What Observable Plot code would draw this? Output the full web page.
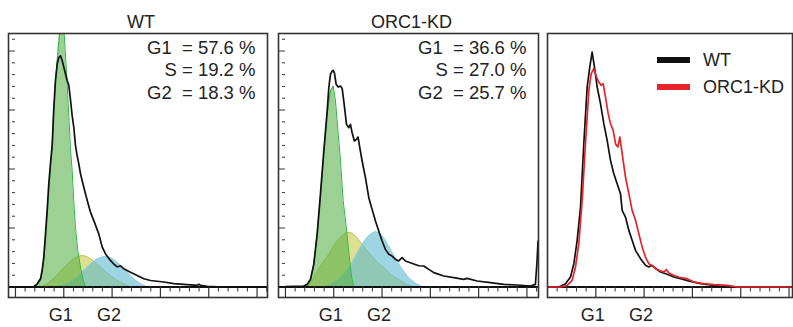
<!DOCTYPE html>
<html>
<head>
<meta charset="utf-8">
<script src="https://cdn.jsdelivr.net/npm/d3@7"></script>
<script src="https://cdn.jsdelivr.net/npm/@observablehq/plot@0.6"></script>
<style>
  body { margin: 0; background: #fff; }
  #chart { position: relative; width: 793px; height: 327px; overflow: hidden;
           font-family: "Liberation Sans", Arial, Helvetica, sans-serif; color: #222; }
  #chart svg { position: absolute; top: 0; overflow: visible; }
  #chart svg text { white-space: pre; }
  .legend-row { position: absolute; left: 657px; height: 20px; display: flex; align-items: center;
                font-size: 18px; color: #222; white-space: nowrap; }
  .legend-row .swatch { width: 33px; height: 6px; margin-right: 13px; }
</style>
</head>
<body>
<div id="chart"></div>
<script>
// ---------- data (x: DNA content channel, G1 = 50, G2 = 100; y: counts) ----------
const wtHistogram = [[0,0],[15,0],[18.9,0.5],[22.5,5.4],[25.9,13.9],[27.6,28],[29.3,50.5],[31.1,90],[32.8,130],[34.5,175],[36.2,209],[38,240],[39.6,300],[41.4,350],[43.2,378],[44.8,389],[46.6,392],[48.3,384],[50,373],[53.5,350],[55.2,342],[56.9,318],[58.7,290],[60.4,270],[62.1,240],[63.9,222],[65.5,209],[67.3,192],[70.7,169],[74.2,147],[77.6,127],[81,113],[86.2,90],[89.7,68],[93.2,56],[98.3,45],[101.7,39],[105.3,34],[108.7,36],[112.1,31],[119,25],[126,19.5],[132.8,14],[139.7,11],[153.5,8.5],[163.9,5.6],[177.7,4],[188,2.8],[189.8,4.5],[191.5,2.8],[198.4,1.1],[215,0],[261,0]];
const wtG1Fit = [[20,0],[22.5,3],[25.9,11],[27.6,24],[29.3,45],[31.1,82],[32.8,122],[34.5,165],[36.2,202],[38,236],[39.6,296],[41.4,348],[43.2,384],[45,418],[46.6,452],[48.3,470],[50,440],[51.7,395],[53.5,344],[55.2,290],[56.9,235],[58.7,197],[60.3,147],[62.1,101],[64.5,62],[67.3,34],[70.1,11],[72.5,0]];
const wtSFit = [[25.9,0],[32.8,5],[39.6,14],[46.6,26],[53.5,38],[60.3,48],[65,52],[69,53.4],[73,52],[77.6,48],[82.8,41],[88,33.6],[93.2,26],[98.3,19.5],[103.5,13],[108.7,8],[113.9,4],[119,0]];
const wtG2Fit = [[39.6,0],[48.3,2.5],[56.9,8],[63.9,16],[70.7,28],[77.6,39],[84.5,47.5],[91.4,51.7],[96.6,51],[100.1,48],[104.5,43],[108.7,36.4],[113.9,28],[119,19.5],[124.2,11.5],[129.4,5.4],[136.3,0]];
const wtStats = ["G1  = 57.6 %", "S = 19.2 %", "G2  = 18.3 %"];

const kdHistogram = [[0,0.5],[19,1.7],[22.5,4.5],[25.9,13],[29.3,38.4],[32.8,89.3],[36.2,157],[39.7,230.5],[43.2,298],[44.9,338],[46.6,360.5],[48.3,366],[49.4,367],[50.7,363],[52.5,343.5],[54.5,339],[57,340.7],[58.7,336.7],[60.4,315],[63.2,275.7],[65.6,270],[67.3,275.7],[69,261.6],[71.4,247.5],[73.5,250.3],[75.2,254.2],[77,236],[79.4,213.6],[82.8,185.3],[86.3,151.4],[89.7,131.6],[93.2,112],[96.6,95],[100.1,78],[103.5,63.8],[107,55.4],[110.4,52.5],[113.9,46.9],[117.3,44.1],[120.8,49.7],[124.2,44.1],[129.4,41],[132.9,39],[138,36],[143.2,35.6],[148.4,29.9],[153.6,24.3],[163.9,18.6],[174.3,15.8],[184.6,13],[188.1,14.7],[198.4,10.2],[212.2,7.3],[226,4.5],[239.8,3.4],[253.6,1.7],[258.8,4.5],[260.5,44],[261.5,78]];
const kdG1Fit = [[19,0],[22.5,1.7],[25.9,10.2],[29.3,38.4],[32.8,89.3],[36.2,151.4],[39.7,224.9],[43.2,292.7],[46.6,332.2],[49.4,340.7],[51.8,315.3],[53.5,281.4],[57,213.6],[59.7,147],[61.8,118],[63.8,89],[65.5,60],[67.3,33],[69,12],[70.7,0]];
const kdSFit = [[15.5,0],[22.5,2.5],[27.6,11],[32.8,26],[37.9,39],[43.2,51],[46.6,59],[50,70],[53.5,77],[58.7,86.4],[62,91],[65.5,92.9],[69,91],[73,85],[77.6,76],[81,69],[84.6,62],[89,53],[93,46],[97,39],[101.7,33.6],[106,26],[110,20],[115,15],[119,11],[126,4],[133,0]];
const kdG2Fit = [[39.7,0],[46.6,4],[53.5,10.2],[60.4,22],[67.3,35],[72.5,52],[77.6,66.7],[81,76],[84.5,83.6],[88.7,90],[93.2,94],[97.5,91],[101.8,83.6],[105.3,74],[108.7,63.8],[112,54],[115.6,44.5],[119,35],[122.5,27.1],[126,19],[129.4,13],[131.8,10],[136.3,4.5],[142,0]];
const kdStats = ["G1  = 36.6 %", "S = 27.0 %", "G2  = 25.7 %"];

const overlayWT = [[0,0],[10,0],[13.5,1.1],[18.6,5.6],[23.8,16.9],[27.3,39.5],[30.7,79.1],[34.2,135.6],[37.6,243],[41.05,339],[43.8,373],[46.2,398],[48.6,373],[51.4,339],[54.85,310.7],[58.3,276.8],[61.75,248.6],[65.2,214.7],[68.65,192.1],[72.1,175.1],[75.55,158.2],[77.3,130],[80.7,118.6],[84.2,96],[87.6,79.1],[91.1,62.1],[96.3,48],[101.4,36.7],[104.9,33.9],[108.3,36.7],[111.8,31.1],[117,25.4],[123.9,21.5],[130.75,16.9],[137.65,14.1],[148,9.6],[158.35,5.6],[172.15,2.8],[185.95,1.7],[196.3,0],[254,0]];
const overlayKD = [[0,0],[13.5,0],[20.35,2.8],[25.5,11.3],[29,33.9],[32.4,73.4],[35.9,146.9],[39.3,242.9],[42.8,333.3],[45.2,361.6],[47.95,370.1],[50.7,355.9],[53.1,347.5],[55.5,341.8],[57.6,344.6],[60,322],[62.8,293.8],[65.2,276.8],[68,265.5],[70.4,242.9],[72.8,237.3],[74.9,254.2],[77.3,226],[80.7,186.4],[84.2,158.2],[87.6,129.9],[91.1,113],[94.5,90.4],[98,67.8],[101.4,50.8],[104.9,39.5],[110.05,33.9],[115.2,28.2],[120.4,25.4],[123.2,29.4],[125.6,23.7],[130.75,19.8],[137.65,15.8],[144.55,14.1],[151.45,8.5],[161.8,5.6],[172.15,4],[185.95,2.8],[196.3,0],[254,0]];

const panelTitles = ["WT", "ORC1-KD"];
const phaseLabels = [{label: "G1", x: 50}, {label: "G2", x: 100}];
const legendItems = [{label: "WT", color: "#111111"}, {label: "ORC1-KD", color: "#e8242b"}];

const xMajorTicks = [0, 50, 100, 150, 200, 250];
const xMinorTicks = [10,20,30,40,60,70,80,90,110,120,130,140,160,170,180,190,210,220,230,240,260];
const yMajorTicks = [100, 200, 300, 400];
const yMinorTicks = [20,40,60,80,120,140,160,180,220,240,260,280,320,340,360,380,420];

// ---------- styling ----------
const FRAME = "#333";
const yDomain = [-17.8, 429.7];
const phaseStyle = {
  S:  {fill: "#c6cb44", stroke: "#c3c25a"},
  G2: {fill: "#5cb9cf", stroke: "#8ccfe0"},
  G1: {fill: "#5cb14b", stroke: "#2fb44a"}
};
const X = d => d[0], Y = d => d[1];

function buildPanel(c) {
  const marks = [];
  for (const f of c.fits || []) {
    marks.push(Plot.areaY(f.data, {x: X, y: Y, fill: f.style.fill, fillOpacity: 0.6, clip: true}));
    marks.push(Plot.lineY(f.data, {x: X, y: Y, stroke: f.style.stroke, strokeWidth: 1, clip: true}));
  }
  // baseline and tick strips
  marks.push(Plot.ruleY([0], {stroke: "#111", strokeWidth: 2}));
  marks.push(Plot.ruleX(xMinorTicks.filter(t => t <= c.xDomain[1]), {y1: 0, y2: -8.5, stroke: FRAME, strokeWidth: 1}));
  marks.push(Plot.ruleX(xMajorTicks.filter(t => t > c.xDomain[0] && t <= c.xDomain[1]), {y1: 0, y2: yDomain[0], stroke: FRAME, strokeWidth: 1.2}));
  if (c.yStrip) {
    marks.push(Plot.ruleY(yMinorTicks, {x1: -3.1, x2: 0, stroke: FRAME, strokeWidth: 1}));
    marks.push(Plot.ruleY(yMajorTicks, {x1: c.xDomain[0], x2: 0, stroke: FRAME, strokeWidth: 1}));
  }
  for (const h of c.lines) {
    marks.push(Plot.line(h.data, {x: X, y: Y, stroke: h.stroke, strokeWidth: 1.7, clip: true}));
  }
  marks.push(Plot.frame({stroke: FRAME, strokeWidth: 1.6}));
  if (c.title) {
    marks.push(Plot.text([c.title], {text: d => d, frameAnchor: "top", lineAnchor: "bottom", dy: -6, dx: 3, fontSize: 18, fill: "#222"}));
  }
  if (c.stats) {
    marks.push(Plot.text([c.stats.join("\n")], {text: d => d, frameAnchor: "top-right", textAnchor: "end", lineAnchor: "top", lineHeight: 1.22, dx: -12, dy: 4, fontSize: 18.5, fill: "#222"}));
  }
  marks.push(Plot.text(phaseLabels, {x: "x", text: "label", frameAnchor: "bottom", lineAnchor: "top", dy: 11, dx: -3, fontSize: 18, fill: "#222"}));

  const svg = Plot.plot({
    width: c.width, height: 327,
    marginTop: 33, marginBottom: 30, marginLeft: c.marginLeft, marginRight: c.marginRight,
    x: {domain: c.xDomain, axis: null},
    y: {domain: yDomain, axis: null},
    style: {fontFamily: '"Liberation Sans", Arial, Helvetica, sans-serif', background: "transparent", overflow: "visible"},
    marks
  });
  svg.style.left = c.left + "px";
  return svg;
}

const chart = document.getElementById("chart");
chart.appendChild(buildPanel({
  left: 0, width: 272, marginLeft: 8, marginRight: 5, xDomain: [-7.2, 260.8], yStrip: true,
  title: panelTitles[0], stats: wtStats,
  fits: [{data: wtSFit, style: phaseStyle.S}, {data: wtG2Fit, style: phaseStyle.G2}, {data: wtG1Fit, style: phaseStyle.G1}],
  lines: [{data: wtHistogram, stroke: "#111"}]
}));
chart.appendChild(buildPanel({
  left: 270, width: 272, marginLeft: 8, marginRight: 4, xDomain: [-7.2, 262], yStrip: true,
  title: panelTitles[1], stats: kdStats,
  fits: [{data: kdSFit, style: phaseStyle.S}, {data: kdG2Fit, style: phaseStyle.G2}, {data: kdG1Fit, style: phaseStyle.G1}],
  lines: [{data: kdHistogram, stroke: "#111"}]
}));
chart.appendChild(buildPanel({
  left: 540, width: 253, marginLeft: 7, marginRight: 1, xDomain: [0, 253.6], yStrip: false,
  lines: [{data: overlayWT, stroke: legendItems[0].color}, {data: overlayKD, stroke: legendItems[1].color}]
}));

// legend (inside third panel)
const rows = d3.select(chart).selectAll("div.legend-row").data(legendItems).join("div")
  .attr("class", "legend-row")
  .style("top", (d, i) => (50 + i * 27) + "px");
rows.append("span").attr("class", "swatch").style("background", d => d.color);
rows.append("span").text(d => d.label);
</script>
</body>
</html>
